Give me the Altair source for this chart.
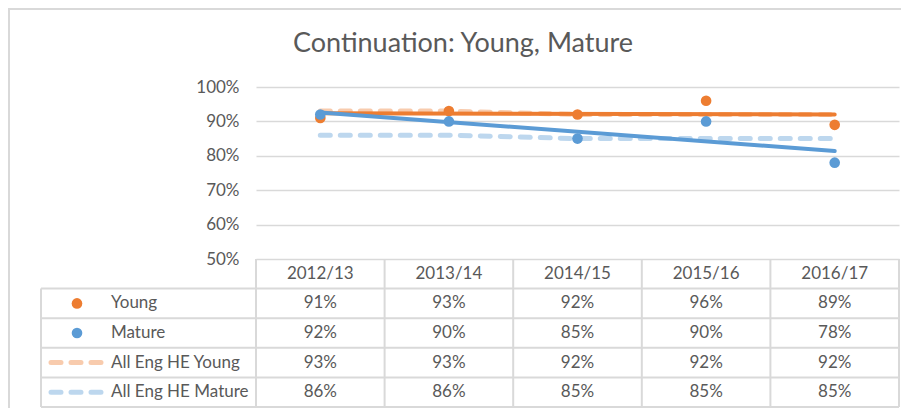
import altair as alt
import pandas as pd

# ---- data ----
years = ["2012/13", "2013/14", "2014/15", "2015/16", "2016/17"]
young = [91, 93, 92, 96, 89]
mature = [92, 90, 85, 90, 78]
eng_young = [93, 93, 92, 92, 92]
eng_mature = [86, 86, 85, 85, 85]
series_names = ["Young", "Mature", "All Eng HE Young", "All Eng HE Mature"]
series_colors = ["#ED7D31", "#5B9BD5", "#F8CBAD", "#BDD7EE"]
y_ticks = [0.5, 0.6, 0.7, 0.8, 0.9, 1.0]
title_text = "Continuation: Young, Mature"

FONT = "Lato"
TXT = "#595959"
GRID = "#D9D9D9"

records = []
for r, (name, vals) in enumerate(zip(series_names, [young, mature, eng_young, eng_mature])):
    for i, (yr, v) in enumerate(zip(years, vals)):
        records.append({"year": yr, "idx": i, "series": name, "value": v / 100, "row": r + 1})
df = pd.DataFrame(records)
df_years = pd.DataFrame({"year": years, "idx": list(range(len(years)))})
df_labels = pd.DataFrame({"series": series_names, "row": list(range(1, len(series_names) + 1))})
df_title = pd.DataFrame({"t": [title_text]})

x_scale = alt.Scale(domain=[-0.5, len(years) - 0.5], nice=False, zero=False)
y_scale = alt.Scale(domain=[0.5, 1.0], nice=False, zero=False)
t_scale = alt.Scale(domain=[0, 5], range=[172, 320], nice=False, zero=False)
color = alt.Color("series:N", scale=alt.Scale(domain=series_names, range=series_colors), legend=None)

X = alt.X("idx:Q", scale=x_scale, axis=None)
Y = alt.Y(
    "value:Q",
    scale=y_scale,
    axis=alt.Axis(
        values=y_ticks, format=".0%", grid=True, gridColor=GRID, gridWidth=1.5,
        domain=False, ticks=False, labelPadding=17, labelFont=FONT,
        labelFontSize=17, labelColor=TXT, title=None,
    ),
)

base = alt.Chart(df)

dashed = base.transform_filter(
    alt.FieldOneOfPredicate(field="series", oneOf=series_names[2:])
).mark_line(strokeDash=[10, 10], strokeCap="round", strokeWidth=5).encode(x=X, y=Y, color=color)

trend_young = base.transform_filter(alt.datum.series == "Young").transform_regression(
    "idx", "value", groupby=["series"]
).mark_line(strokeWidth=4, strokeCap="round").encode(x=X, y=Y, color=color)

trend_mature = base.transform_filter(alt.datum.series == "Mature").transform_regression(
    "idx", "value", groupby=["series"]
).mark_line(strokeWidth=4, strokeCap="round").encode(x=X, y=Y, color=color)

points = base.transform_filter(
    alt.FieldOneOfPredicate(field="series", oneOf=series_names[:2])
).mark_circle(size=113, opacity=1).encode(x=X, y=Y, color=color)

data_layer = alt.layer(dashed, trend_young, trend_mature, points)

# ---- data table below the plot ----
TY = lambda f: alt.Y(f, scale=t_scale, axis=None)

vlines = alt.Chart(alt.sequence(0, len(years) + 1, as_="k")).transform_calculate(
    xb="datum.k - 0.5", y0="0", y1="5"
).mark_rule(color=GRID, strokeWidth=2).encode(
    x=alt.X("xb:Q", scale=x_scale, axis=None), y=TY("y0:Q"), y2="y1:Q"
)

hlines = alt.Chart(alt.sequence(1, 6, as_="r")).mark_rule(color=GRID, strokeWidth=2).encode(
    y=TY("r:Q"), x=alt.value(-215), x2=alt.value(643)
)

left_border = alt.Chart(alt.sequence(0, 1, as_="k")).transform_calculate(
    y0="1", y1="5"
).mark_rule(color=GRID, strokeWidth=2).encode(x=alt.value(-215), y=TY("y0:Q"), y2="y1:Q")

header = alt.Chart(df_years).transform_calculate(ry="0.5").mark_text(
    font=FONT, fontSize=17, color=TXT
).encode(x=X, y=TY("ry:Q"), text="year:N")

cells = base.transform_calculate(ry="datum.row + 0.5").mark_text(
    font=FONT, fontSize=17, color=TXT
).encode(x=X, y=TY("ry:Q"), text=alt.Text("value:Q", format=".0%"))

labels = alt.Chart(df_labels).transform_calculate(ry="datum.row + 0.5").mark_text(
    font=FONT, fontSize=17, color=TXT, align="left"
).encode(x=alt.value(-145), y=TY("ry:Q"), text="series:N")

legend_dots = alt.Chart(df_labels).transform_filter(
    alt.FieldOneOfPredicate(field="series", oneOf=series_names[:2])
).transform_calculate(ry="datum.row + 0.5").mark_circle(size=113, opacity=1).encode(
    x=alt.value(-179), y=TY("ry:Q"), color=color
)

legend_dashes = alt.Chart(df_labels).transform_filter(
    alt.FieldOneOfPredicate(field="series", oneOf=series_names[2:])
).transform_calculate(ry="datum.row + 0.5").mark_rule(
    strokeDash=[10, 10], strokeCap="round", strokeWidth=5
).encode(x=alt.value(-205), x2=alt.value(-155), y=TY("ry:Q"), color=color)

frame_top = alt.Chart(alt.sequence(0, 1, as_="k")).mark_rule(color=GRID, strokeWidth=2).encode(
    x=alt.value(-248), x2=alt.value(645), y=alt.value(-78)
)
frame_left = alt.Chart(alt.sequence(0, 1, as_="k")).mark_rule(color=GRID, strokeWidth=2).encode(
    x=alt.value(-247), y=alt.value(-79), y2=alt.value(321)
)

title = alt.Chart(df_title).mark_text(
    font=FONT, fontSize=27, color=TXT, align="center", baseline="alphabetic"
).encode(x=alt.value(207), y=alt.value(-35), text="t:N")

table_layer = alt.layer(
    vlines, hlines, left_border, header, cells, labels, legend_dots, legend_dashes,
    frame_top, frame_left, title,
)

chart = alt.layer(data_layer, table_layer).resolve_scale(y="independent").properties(
    width=643,
    height=172,
    autosize=alt.AutoSizeParams(type="none"),
    padding={"left": 248, "top": 79, "right": 2, "bottom": 149},
).configure_view(stroke=None)

chart.save("out.html", embed_options={"renderer": "svg", "actions": False})
